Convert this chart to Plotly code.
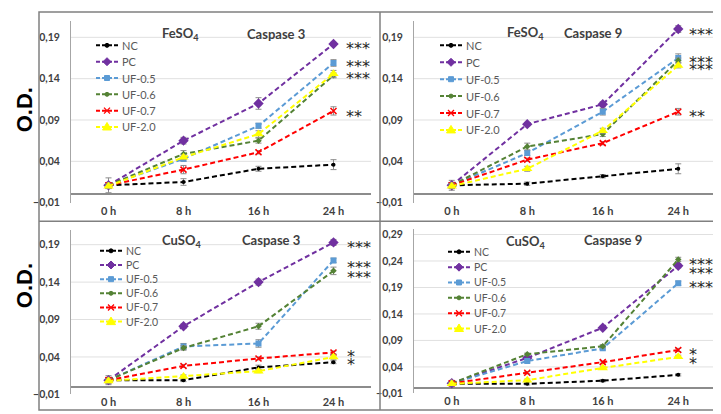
import plotly.graph_objects as go

W, H = 721, 414

times = ["0 h", "8 h", "16 h", "24 h"]
series_names = ["NC", "PC", "UF-0.5", "UF-0.6", "UF-0.7", "UF-2.0"]

# ---- FeSO4 Caspase 3 ----
fe_c3_NC = [0.011, 0.015, 0.031, 0.036]
fe_c3_PC = [0.011, 0.065, 0.110, 0.182]
fe_c3_UF05 = [0.011, 0.043, 0.083, 0.159]
fe_c3_UF06 = [0.011, 0.049, 0.065, 0.144]
fe_c3_UF07 = [0.011, 0.030, 0.051, 0.101]
fe_c3_UF20 = [0.010, 0.045, 0.073, 0.146]
fe_c3_err = [[0.009, 0.004, 0.003, 0.006], [0.003, 0.004, 0.007, 0.002],
             [0.003, 0.003, 0.003, 0.004], [0.003, 0.004, 0.003, 0.003],
             [0.003, 0.005, 0.002, 0.005], [0.003, 0.003, 0.004, 0.004]]
fe_c3_stars = ["***", "***", "***", "**"]
fe_c3_star_y = [0.182, 0.161, 0.146, 0.100]

# ---- FeSO4 Caspase 9 ----
fe_c9_NC = [0.011, 0.013, 0.022, 0.031]
fe_c9_PC = [0.011, 0.085, 0.109, 0.200]
fe_c9_UF05 = [0.011, 0.050, 0.100, 0.165]
fe_c9_UF06 = [0.011, 0.058, 0.073, 0.162]
fe_c9_UF07 = [0.011, 0.042, 0.062, 0.100]
fe_c9_UF20 = [0.010, 0.031, 0.077, 0.156]
fe_c9_err = [[0.006, 0.002, 0.002, 0.006], [0.003, 0.002, 0.003, 0.004],
             [0.003, 0.003, 0.004, 0.005], [0.003, 0.004, 0.003, 0.003],
             [0.003, 0.002, 0.002, 0.004], [0.003, 0.003, 0.003, 0.003]]
fe_c9_stars = ["***", "***", "***", "**"]
fe_c9_star_y = [0.200, 0.165, 0.157, 0.100]

# ---- CuSO4 Caspase 3 ----
cu_c3_NC = [0.009, 0.009, 0.026, 0.033]
cu_c3_PC = [0.009, 0.081, 0.140, 0.193]
cu_c3_UF05 = [0.009, 0.054, 0.058, 0.169]
cu_c3_UF06 = [0.009, 0.052, 0.081, 0.155]
cu_c3_UF07 = [0.009, 0.028, 0.038, 0.046]
cu_c3_UF20 = [0.008, 0.014, 0.021, 0.040]
cu_c3_err = [[0.006, 0.002, 0.003, 0.002], [0.003, 0.003, 0.004, 0.004],
             [0.003, 0.004, 0.005, 0.003], [0.003, 0.003, 0.004, 0.005],
             [0.002, 0.002, 0.002, 0.002], [0.003, 0.002, 0.002, 0.003]]
cu_c3_stars = ["***", "***", "***", "*", "*"]
cu_c3_star_y = [0.193, 0.166, 0.153, 0.047, 0.036]

# ---- CuSO4 Caspase 9 ----
cu_c9_NC = [0.008, 0.008, 0.014, 0.025]
cu_c9_PC = [0.009, 0.057, 0.114, 0.231]
cu_c9_UF05 = [0.009, 0.051, 0.075, 0.198]
cu_c9_UF06 = [0.009, 0.064, 0.079, 0.243]
cu_c9_UF07 = [0.009, 0.029, 0.049, 0.072]
cu_c9_UF20 = [0.008, 0.015, 0.038, 0.059]
cu_c9_err = [[0.004, 0.002, 0.002, 0.002], [0.003, 0.003, 0.003, 0.004],
             [0.003, 0.003, 0.003, 0.004], [0.003, 0.002, 0.003, 0.004],
             [0.002, 0.002, 0.002, 0.003], [0.002, 0.002, 0.002, 0.003]]
cu_c9_stars = ["***", "***", "***", "*", "*"]
cu_c9_star_y = [0.243, 0.226, 0.199, 0.073, 0.055]

y_ticks_small = [-0.01, 0.04, 0.09, 0.14, 0.19]
y_ticks_large = [-0.01, 0.04, 0.09, 0.14, 0.19, 0.24, 0.29]

panels = [
    dict(salt="FeSO<sub>4</sub>", casp="Caspase 3",
         data=[fe_c3_NC, fe_c3_PC, fe_c3_UF05, fe_c3_UF06, fe_c3_UF07, fe_c3_UF20],
         err=fe_c3_err, stars=fe_c3_stars, star_y=fe_c3_star_y,
         ticks=y_ticks_small, yr=[-0.01, 0.21]),
    dict(salt="FeSO<sub>4</sub>", casp="Caspase 9",
         data=[fe_c9_NC, fe_c9_PC, fe_c9_UF05, fe_c9_UF06, fe_c9_UF07, fe_c9_UF20],
         err=fe_c9_err, stars=fe_c9_stars, star_y=fe_c9_star_y,
         ticks=y_ticks_small, yr=[-0.01, 0.21]),
    dict(salt="CuSO<sub>4</sub>", casp="Caspase 3",
         data=[cu_c3_NC, cu_c3_PC, cu_c3_UF05, cu_c3_UF06, cu_c3_UF07, cu_c3_UF20],
         err=cu_c3_err, stars=cu_c3_stars, star_y=cu_c3_star_y,
         ticks=y_ticks_small, yr=[-0.01, 0.21]),
    dict(salt="CuSO<sub>4</sub>", casp="Caspase 9",
         data=[cu_c9_NC, cu_c9_PC, cu_c9_UF05, cu_c9_UF06, cu_c9_UF07, cu_c9_UF20],
         err=cu_c9_err, stars=cu_c9_stars, star_y=cu_c9_star_y,
         ticks=y_ticks_large, yr=[-0.01, 0.30]),
]

colors = ["#000000", "#7030A0", "#5B9BD5", "#548235", "#FF0000", "#FFFF00"]
symbols = ["circle", "diamond", "square", "diamond", "x-thin-open", "triangle-up"]
msizes = [4, 8, 6, 5, 6, 9]

def px_x(p):
    return p / W

def px_y(p):
    return 1 - p / H

# plot areas in pixels: (x0, x1, ytop, ybottom)
areas = [(63, 363, 12, 197), (406, 708, 12, 197),
         (63, 363, 224.5, 392), (406, 708, 224, 391)]
# custom legend: (line start x, first row y, row step)
legend_pos = [(88, 37, 16.6), (432, 37, 17.2), (92, 246, 14.4), (440, 247, 15.6)]
legend_fs = [11, 11, 10.5, 10.5]
title_pos = [((172, 25), (268, 25)), ((517, 24), (585, 24)),
             ((173, 236), (263, 235)), ((517, 237), (605, 235))]
star_shift = [10, 9, 11, 9]

TXT = "#404040"
fig = go.Figure()
layout = dict(width=W, height=H, margin=dict(l=0, r=0, t=0, b=0),
              paper_bgcolor="white", plot_bgcolor="white", showlegend=False,
              separators=",.", font=dict(family="Lato", color=TXT),
              annotations=[], shapes=[])


def marker_shape(j, cx, cy, col):
    base = dict(xref="paper", yref="paper", xsizemode="pixel", ysizemode="pixel",
                xanchor=px_x(cx), yanchor=px_y(cy), fillcolor=col,
                line=dict(color=col, width=1))
    if j == 0 or j == 3:
        return dict(type="circle", x0=-2, x1=2, y0=-2, y1=2, **base)
    if j == 1:
        return dict(type="path", path="M0,4 L4,0 L0,-4 L-4,0 Z", **base)
    if j == 2:
        return dict(type="rect", x0=-2.5, x1=2.5, y0=-2.5, y1=2.5, **base)
    if j == 4:
        b = dict(base)
        b["line"] = dict(color=col, width=1.3)
        b.pop("fillcolor")
        return dict(type="path", path="M-3,-3 L3,3 M-3,3 L3,-3", **b)
    return dict(type="path", path="M-4.5,-3 L4.5,-3 L0,4.5 Z", **base)


for i, pnl in enumerate(panels):
    k = "" if i == 0 else str(i + 1)
    xa, ya = "x" + k, "y" + k
    for j, name in enumerate(series_names):
        fig.add_trace(go.Scatter(
            x=times, y=pnl["data"][j], name=name, xaxis=xa, yaxis=ya,
            mode="lines+markers",
            line=dict(color=colors[j], width=2, dash="5px,3px"),
            marker=dict(symbol=symbols[j], size=msizes[j], color=colors[j],
                        line=dict(color=colors[j], width=1.5 if j == 4 else 0)),
            error_y=dict(type="data", array=pnl["err"][j], color="#8c8c8c",
                         thickness=1, width=3),
        ))
    x0, x1, yt, yb = areas[i]
    layout["xaxis" + k] = dict(
        domain=[px_x(x0), px_x(x1)], anchor=ya, type="category",
        categoryorder="array", categoryarray=times, range=[-0.5, 3.5],
        showgrid=False, showline=False, zeroline=False, ticks="",
        tickfont=dict(size=11, color=TXT, weight="bold"))
    layout["yaxis" + k] = dict(
        domain=[px_y(yb), px_y(yt)], anchor=xa, range=pnl["yr"],
        tickvals=pnl["ticks"], tickformat=".2f", showgrid=False,
        showline=True, linecolor="#a6a6a6", linewidth=1,
        zeroline=True, zerolinecolor="#8c8c8c", zerolinewidth=1.5,
        ticks="", ticklabelstandoff=8,
        tickfont=dict(size=10.5, color=TXT, weight="bold"))
    for t in pnl["ticks"][1:]:
        layout["shapes"].append(dict(type="line", xref=xa + " domain", yref=ya,
                                     x0=0, x1=1, y0=t, y1=t, layer="below",
                                     line=dict(color="#e0e0e0", width=1)))
    # legend (drawn as decoration)
    lx, ly0, step = legend_pos[i]
    for j, name in enumerate(series_names):
        ly = ly0 + j * step
        layout["shapes"].append(dict(type="line", xref="paper", yref="paper",
            x0=px_x(lx), x1=px_x(lx + 22), y0=px_y(ly), y1=px_y(ly),
            line=dict(color=colors[j], width=2, dash="4px,2px")))
        layout["shapes"].append(marker_shape(j, lx + 11, ly, colors[j]))
        layout["annotations"].append(dict(text=name, xref="paper", yref="paper",
            x=px_x(lx + 24), y=px_y(ly), xanchor="left", yanchor="middle",
            showarrow=False, font=dict(size=legend_fs[i], color="#595959")))
    (sx, sy), (cx, cy) = title_pos[i]
    layout["annotations"].append(dict(text=pnl["salt"], xref="paper", yref="paper",
        x=px_x(sx), y=px_y(sy), showarrow=False, xanchor="center", yanchor="middle",
        font=dict(size=13, color=TXT, weight="bold")))
    layout["annotations"].append(dict(text=pnl["casp"], xref="paper", yref="paper",
        x=px_x(cx), y=px_y(cy), showarrow=False, xanchor="center", yanchor="middle",
        font=dict(size=13, color=TXT, weight="bold")))
    for s, sy_ in zip(pnl["stars"], pnl["star_y"]):
        layout["annotations"].append(dict(text=s, xref=xa, yref=ya, x="24 h", y=sy_,
            xanchor="left", yanchor="middle", xshift=star_shift[i], yshift=-5,
            showarrow=False, font=dict(family="DejaVu Sans", size=16, color="#262626")))

# O.D. labels
for yc in [103, 282]:
    layout["annotations"].append(dict(text="O.D.", xref="paper", yref="paper",
        x=px_x(16), y=px_y(yc), textangle=-90, showarrow=False,
        xanchor="center", yanchor="middle",
        font=dict(family="Liberation Sans", size=22, color="#000000", weight="bold")))

# panel frame
frame = "#808080"
layout["shapes"] += [
    dict(type="rect", xref="paper", yref="paper", x0=px_x(31), x1=px_x(713),
         y0=px_y(408), y1=px_y(3), line=dict(color=frame, width=1.5)),
    dict(type="line", xref="paper", yref="paper", x0=px_x(372), x1=px_x(372),
         y0=px_y(408), y1=px_y(3), line=dict(color=frame, width=1.5)),
    dict(type="line", xref="paper", yref="paper", x0=px_x(31), x1=px_x(713),
         y0=px_y(216), y1=px_y(216), line=dict(color=frame, width=1.5)),
]

fig.update_layout(**layout)
fig.write_html("out.html")
